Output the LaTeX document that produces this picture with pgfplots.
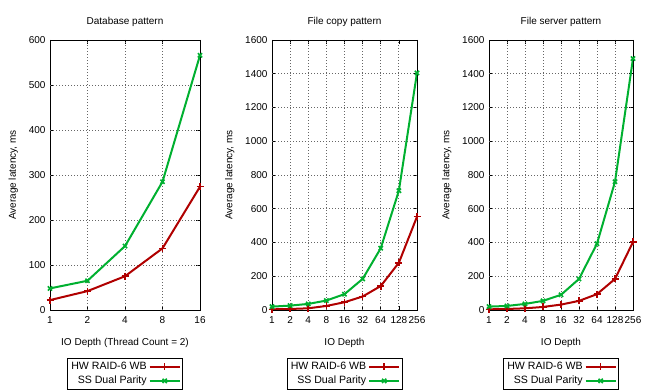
\documentclass[border=0pt]{standalone}
\usepackage{fontspec}
\setmainfont{Liberation Sans}
\usepackage{pgfplots}
\pgfplotsset{compat=1.18}
\definecolor{gred}{RGB}{176,0,0}
\definecolor{ggreen}{RGB}{0,176,48}
\tikzset{gline/.style={draw=black!60, dash pattern=on 1pt off 2pt, line width=0.8pt}}
\pgfplotsset{
 gp/.style={
  scale only axis,
  height=270pt,
  ymin=0,
  axis line style={black, line width=0.8pt},
  tick style={black, line width=0.6pt},
  tick align=inside,
  major tick length=4pt,
  /pgf/number format/assume math mode=true,
  /pgf/number format/1000 sep={},
  every tick label/.append style={font=\fontsize{10}{11}\selectfont},
  xticklabel style={yshift=-3pt},
  yticklabel style={xshift=-1pt},
  label style={font=\fontsize{10}{11}\selectfont},
  xlabel style={yshift=-8pt},
  ylabel style={yshift=4pt},
  title style={font=\fontsize{10}{11}\selectfont, yshift=4pt},
  legend style={at={(0.5,-0.178)}, anchor=north, draw=black, line width=0.6pt,
    font=\fontsize{10.6}{11.5}\selectfont, inner sep=2pt, row sep=1pt},
  legend cell align=right,
  legend plot pos=right,
  legend image code/.code={
    \draw[line width=2pt, mark repeat=2, mark phase=2, #1]
      plot coordinates {(0pt,0pt) (15pt,0pt) (30pt,0pt)};},
 },
 rd/.style={color=gred, line width=2pt, mark=+, mark size=3.5pt, mark options={line width=1.6pt}},
 gn/.style={color=ggreen, line width=2pt, mark=x, mark size=3pt, mark options={line width=1.6pt}},
}
\begin{document}
\begin{tikzpicture}
\useasboundingbox (0,0) rectangle (650pt,390pt);
\begin{axis}[gp, at={(50pt,80pt)}, anchor=south west, width=150pt,
  title={Database pattern},
  xmin=0, xmax=4, xtick={0,...,4}, xticklabels={1,2,4,8,16},
  ymax=600, ytick={0,100,...,600},
  xlabel={IO Depth (Thread Count = 2)}, ylabel={Average latency, ms}]
\pgfplotsinvokeforeach{1,2,3}{\draw[gline] (axis cs:#1,0) -- (axis cs:#1,600);}
\pgfplotsinvokeforeach{100,200,300,400,500}{\draw[gline] (axis cs:0,#1) -- (axis cs:4,#1);}
\addplot[rd] coordinates {(0,22) (1,42) (2,75) (3,137) (4,274)};
\addlegendentry{HW RAID-6 WB}
\addplot[gn] coordinates {(0,48) (1,65) (2,142) (3,285) (4,566)};
\addlegendentry{SS Dual Parity}
\end{axis}
\begin{axis}[gp, at={(272pt,80pt)}, anchor=south west, width=145pt,
  title={File copy pattern},
  xmin=0, xmax=8, xtick={0,...,8}, xticklabels={1,2,4,8,16,32,64,128,256},
  ymax=1600, ytick={0,200,...,1600},
  xlabel={IO Depth}, ylabel={Average latency, ms}]
\pgfplotsinvokeforeach{1,...,7}{\draw[gline] (axis cs:#1,0) -- (axis cs:#1,1600);}
\pgfplotsinvokeforeach{200,400,600,800,1000,1200,1400}{\draw[gline] (axis cs:0,#1) -- (axis cs:8,#1);}
\addplot[rd] coordinates {(0,4) (1,6) (2,10) (3,24) (4,46) (5,80) (6,142) (7,280) (8,553)};
\addlegendentry{HW RAID-6 WB}
\addplot[gn] coordinates {(0,20) (1,26) (2,36) (3,56) (4,94) (5,184) (6,366) (7,707) (8,1405)};
\addlegendentry{SS Dual Parity}
\end{axis}
\begin{axis}[gp, at={(489pt,80pt)}, anchor=south west, width=144pt,
  title={File server pattern},
  xmin=0, xmax=8, xtick={0,...,8}, xticklabels={1,2,4,8,16,32,64,128,256},
  ymax=1600, ytick={0,200,...,1600},
  xlabel={IO Depth}, ylabel={Average latency, ms}]
\pgfplotsinvokeforeach{1,...,7}{\draw[gline] (axis cs:#1,0) -- (axis cs:#1,1600);}
\pgfplotsinvokeforeach{200,400,600,800,1000,1200,1400}{\draw[gline] (axis cs:0,#1) -- (axis cs:8,#1);}
\addplot[rd] coordinates {(0,4) (1,6) (2,10) (3,18) (4,32) (5,54) (6,94) (7,184) (8,403)};
\addlegendentry{HW RAID-6 WB}
\addplot[gn] coordinates {(0,20) (1,24) (2,36) (3,54) (4,90) (5,184) (6,393) (7,760) (8,1490)};
\addlegendentry{SS Dual Parity}
\end{axis}
\end{tikzpicture}
\end{document}
